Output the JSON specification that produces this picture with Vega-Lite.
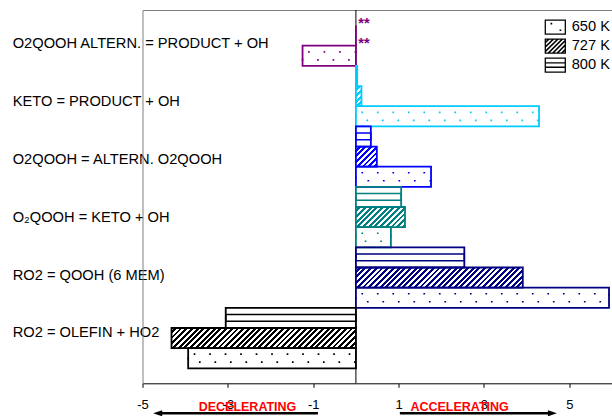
{
  "$schema": "https://vega.github.io/schema/vega-lite/v6.json",
  "width": 469.5,
  "height": 373.3,
  "autosize": {"type": "none"},
  "padding": {"left": 142.5, "top": 10, "right": 0, "bottom": 32.7},
  "config": {"view": {"stroke": null}, "font": "Liberation Sans"},
  "params": [
    {
      "name": "hatchStops",
      "value": [
        {"offset": 0, "color": "#fff"},
        {"offset": 0.0125, "color": "#fff"}, {"offset": 0.0125, "color": "#fff0"},
        {"offset": 0.025, "color": "#fff0"}, {"offset": 0.025, "color": "#fff"},
        {"offset": 0.0375, "color": "#fff"}, {"offset": 0.0375, "color": "#fff0"},
        {"offset": 0.05, "color": "#fff0"}, {"offset": 0.05, "color": "#fff"},
        {"offset": 0.0625, "color": "#fff"}, {"offset": 0.0625, "color": "#fff0"},
        {"offset": 0.075, "color": "#fff0"}, {"offset": 0.075, "color": "#fff"},
        {"offset": 0.0875, "color": "#fff"}, {"offset": 0.0875, "color": "#fff0"},
        {"offset": 0.1, "color": "#fff0"}, {"offset": 0.1, "color": "#fff"},
        {"offset": 0.1125, "color": "#fff"}, {"offset": 0.1125, "color": "#fff0"},
        {"offset": 0.125, "color": "#fff0"}, {"offset": 0.125, "color": "#fff"},
        {"offset": 0.1375, "color": "#fff"}, {"offset": 0.1375, "color": "#fff0"},
        {"offset": 0.15, "color": "#fff0"}, {"offset": 0.15, "color": "#fff"},
        {"offset": 0.1625, "color": "#fff"}, {"offset": 0.1625, "color": "#fff0"},
        {"offset": 0.175, "color": "#fff0"}, {"offset": 0.175, "color": "#fff"},
        {"offset": 0.1875, "color": "#fff"}, {"offset": 0.1875, "color": "#fff0"},
        {"offset": 0.2, "color": "#fff0"}, {"offset": 0.2, "color": "#fff"},
        {"offset": 0.2125, "color": "#fff"}, {"offset": 0.2125, "color": "#fff0"},
        {"offset": 0.225, "color": "#fff0"}, {"offset": 0.225, "color": "#fff"},
        {"offset": 0.2375, "color": "#fff"}, {"offset": 0.2375, "color": "#fff0"},
        {"offset": 0.25, "color": "#fff0"}, {"offset": 0.25, "color": "#fff"},
        {"offset": 0.2625, "color": "#fff"}, {"offset": 0.2625, "color": "#fff0"},
        {"offset": 0.275, "color": "#fff0"}, {"offset": 0.275, "color": "#fff"},
        {"offset": 0.2875, "color": "#fff"}, {"offset": 0.2875, "color": "#fff0"},
        {"offset": 0.3, "color": "#fff0"}, {"offset": 0.3, "color": "#fff"},
        {"offset": 0.3125, "color": "#fff"}, {"offset": 0.3125, "color": "#fff0"},
        {"offset": 0.325, "color": "#fff0"}, {"offset": 0.325, "color": "#fff"},
        {"offset": 0.3375, "color": "#fff"}, {"offset": 0.3375, "color": "#fff0"},
        {"offset": 0.35, "color": "#fff0"}, {"offset": 0.35, "color": "#fff"},
        {"offset": 0.3625, "color": "#fff"}, {"offset": 0.3625, "color": "#fff0"},
        {"offset": 0.375, "color": "#fff0"}, {"offset": 0.375, "color": "#fff"},
        {"offset": 0.3875, "color": "#fff"}, {"offset": 0.3875, "color": "#fff0"},
        {"offset": 0.4, "color": "#fff0"}, {"offset": 0.4, "color": "#fff"},
        {"offset": 0.4125, "color": "#fff"}, {"offset": 0.4125, "color": "#fff0"},
        {"offset": 0.425, "color": "#fff0"}, {"offset": 0.425, "color": "#fff"},
        {"offset": 0.4375, "color": "#fff"}, {"offset": 0.4375, "color": "#fff0"},
        {"offset": 0.45, "color": "#fff0"}, {"offset": 0.45, "color": "#fff"},
        {"offset": 0.4625, "color": "#fff"}, {"offset": 0.4625, "color": "#fff0"},
        {"offset": 0.475, "color": "#fff0"}, {"offset": 0.475, "color": "#fff"},
        {"offset": 0.4875, "color": "#fff"}, {"offset": 0.4875, "color": "#fff0"},
        {"offset": 0.5, "color": "#fff0"}, {"offset": 0.5, "color": "#fff"},
        {"offset": 0.5125, "color": "#fff"}, {"offset": 0.5125, "color": "#fff0"},
        {"offset": 0.525, "color": "#fff0"}, {"offset": 0.525, "color": "#fff"},
        {"offset": 0.5375, "color": "#fff"}, {"offset": 0.5375, "color": "#fff0"},
        {"offset": 0.55, "color": "#fff0"}, {"offset": 0.55, "color": "#fff"},
        {"offset": 0.5625, "color": "#fff"}, {"offset": 0.5625, "color": "#fff0"},
        {"offset": 0.575, "color": "#fff0"}, {"offset": 0.575, "color": "#fff"},
        {"offset": 0.5875, "color": "#fff"}, {"offset": 0.5875, "color": "#fff0"},
        {"offset": 0.6, "color": "#fff0"}, {"offset": 0.6, "color": "#fff"},
        {"offset": 0.6125, "color": "#fff"}, {"offset": 0.6125, "color": "#fff0"},
        {"offset": 0.625, "color": "#fff0"}, {"offset": 0.625, "color": "#fff"},
        {"offset": 0.6375, "color": "#fff"}, {"offset": 0.6375, "color": "#fff0"},
        {"offset": 0.65, "color": "#fff0"}, {"offset": 0.65, "color": "#fff"},
        {"offset": 0.6625, "color": "#fff"}, {"offset": 0.6625, "color": "#fff0"},
        {"offset": 0.675, "color": "#fff0"}, {"offset": 0.675, "color": "#fff"},
        {"offset": 0.6875, "color": "#fff"}, {"offset": 0.6875, "color": "#fff0"},
        {"offset": 0.7, "color": "#fff0"}, {"offset": 0.7, "color": "#fff"},
        {"offset": 0.7125, "color": "#fff"}, {"offset": 0.7125, "color": "#fff0"},
        {"offset": 0.725, "color": "#fff0"}, {"offset": 0.725, "color": "#fff"},
        {"offset": 0.7375, "color": "#fff"}, {"offset": 0.7375, "color": "#fff0"},
        {"offset": 0.75, "color": "#fff0"}, {"offset": 0.75, "color": "#fff"},
        {"offset": 0.7625, "color": "#fff"}, {"offset": 0.7625, "color": "#fff0"},
        {"offset": 0.775, "color": "#fff0"}, {"offset": 0.775, "color": "#fff"},
        {"offset": 0.7875, "color": "#fff"}, {"offset": 0.7875, "color": "#fff0"},
        {"offset": 0.8, "color": "#fff0"}, {"offset": 0.8, "color": "#fff"},
        {"offset": 0.8125, "color": "#fff"}, {"offset": 0.8125, "color": "#fff0"},
        {"offset": 0.825, "color": "#fff0"}, {"offset": 0.825, "color": "#fff"},
        {"offset": 0.8375, "color": "#fff"}, {"offset": 0.8375, "color": "#fff0"},
        {"offset": 0.85, "color": "#fff0"}, {"offset": 0.85, "color": "#fff"},
        {"offset": 0.8625, "color": "#fff"}, {"offset": 0.8625, "color": "#fff0"},
        {"offset": 0.875, "color": "#fff0"}, {"offset": 0.875, "color": "#fff"},
        {"offset": 0.8875, "color": "#fff"}, {"offset": 0.8875, "color": "#fff0"},
        {"offset": 0.9, "color": "#fff0"}, {"offset": 0.9, "color": "#fff"},
        {"offset": 0.9125, "color": "#fff"}, {"offset": 0.9125, "color": "#fff0"},
        {"offset": 0.925, "color": "#fff0"}, {"offset": 0.925, "color": "#fff"},
        {"offset": 0.9375, "color": "#fff"}, {"offset": 0.9375, "color": "#fff0"},
        {"offset": 0.95, "color": "#fff0"}, {"offset": 0.95, "color": "#fff"},
        {"offset": 0.9625, "color": "#fff"}, {"offset": 0.9625, "color": "#fff0"},
        {"offset": 0.975, "color": "#fff0"}, {"offset": 0.975, "color": "#fff"},
        {"offset": 0.9875, "color": "#fff"}, {"offset": 0.9875, "color": "#fff0"},
        {"offset": 1, "color": "#fff0"}
      ]
    }
  ],
  "data": {
    "values": [
      {"reaction": "O2QOOH ALTERN. = PRODUCT + OH", "temp": "800 K", "value": null, "note": "**"},
      {"reaction": "O2QOOH ALTERN. = PRODUCT + OH", "temp": "727 K", "value": 0, "note": "**"},
      {"reaction": "O2QOOH ALTERN. = PRODUCT + OH", "temp": "650 K", "value": -1.25},
      {"reaction": "KETO = PRODUCT + OH", "temp": "800 K", "value": 0.03},
      {"reaction": "KETO = PRODUCT + OH", "temp": "727 K", "value": 0.13},
      {"reaction": "KETO = PRODUCT + OH", "temp": "650 K", "value": 4.29},
      {"reaction": "O2QOOH = ALTERN. O2QOOH", "temp": "800 K", "value": 0.35},
      {"reaction": "O2QOOH = ALTERN. O2QOOH", "temp": "727 K", "value": 0.49},
      {"reaction": "O2QOOH = ALTERN. O2QOOH", "temp": "650 K", "value": 1.76},
      {"reaction": "O₂QOOH = KETO + OH", "temp": "800 K", "value": 1.06},
      {"reaction": "O₂QOOH = KETO + OH", "temp": "727 K", "value": 1.15},
      {"reaction": "O₂QOOH = KETO + OH", "temp": "650 K", "value": 0.82},
      {"reaction": "RO2 = QOOH (6 MEM)", "temp": "800 K", "value": 2.54},
      {"reaction": "RO2 = QOOH (6 MEM)", "temp": "727 K", "value": 3.91},
      {"reaction": "RO2 = QOOH (6 MEM)", "temp": "650 K", "value": 5.93},
      {"reaction": "RO2 = OLEFIN + HO2", "temp": "800 K", "value": -3.05},
      {"reaction": "RO2 = OLEFIN + HO2", "temp": "727 K", "value": -4.32},
      {"reaction": "RO2 = OLEFIN + HO2", "temp": "650 K", "value": -3.93}
    ]
  },
  "resolve": {"scale": {"y": "independent", "yOffset": "independent"}},
  "layer": [
    {
      "layer": [
        {
          "data": {"values": [{}]},
          "mark": {"type": "rule", "color": "#000", "strokeWidth": 1},
          "encoding": {
            "x": {
              "datum": 0, "type": "quantitative",
              "scale": {"domain": [-5, 6], "nice": false},
              "axis": {"orient": "top", "labels": false, "ticks": false, "grid": false, "title": null, "domainColor": "#808080", "domainWidth": 1}
            }
          }
        },
        {
          "mark": {"type": "bar", "strokeWidth": 0},
          "encoding": {
            "x": {
              "field": "value", "type": "quantitative", "stack": null,
              "scale": {"domain": [-5, 6], "nice": false},
              "axis": {"orient": "bottom", "values": [-5, -3, -1, 1, 3, 5], "title": null, "grid": false, "domainColor": "#000", "domainWidth": 1, "tickColor": "#000", "tickSize": 4, "tickWidth": 1, "labelFontSize": 13, "labelColor": "#000", "labelPadding": 11, "labelFlush": false, "labelExpr": "'' + datum.value"}
            },
            "y": {"field": "reaction", "type": "nominal", "sort": null, "scale": {"domain": ["O2QOOH ALTERN. = PRODUCT + OH", "KETO = PRODUCT + OH", "O2QOOH = ALTERN. O2QOOH", "O₂QOOH = KETO + OH", "RO2 = QOOH (6 MEM)", "RO2 = OLEFIN + HO2"], "range": [-4.6, 358.3], "paddingInner": 0, "paddingOuter": 0}, "axis": null},
            "yOffset": {"field": "temp", "type": "nominal", "sort": null, "scale": {"domain": ["800 K", "727 K", "650 K"], "paddingInner": 0, "paddingOuter": 0}},
            "color": {
              "condition": {"test": "datum.temp === '727 K'", "field": "reaction", "type": "nominal", "legend": null, "scale": {"domain": ["O2QOOH ALTERN. = PRODUCT + OH", "KETO = PRODUCT + OH", "O2QOOH = ALTERN. O2QOOH", "O₂QOOH = KETO + OH", "RO2 = QOOH (6 MEM)", "RO2 = OLEFIN + HO2"], "range": ["#800080", "#00ccff", "#0000ff", "#008080", "#000080", "#000000"]}},
              "value": "#fff"
            }
          }
        },
        {
          "transform": [{"filter": "datum.temp === '727 K'"}],
          "mark": {
            "type": "bar", "strokeWidth": 0,
            "fill": {"expr": "{gradient: 'linear', x1: 0, y1: 0, x2: 228 * abs(datum.value) * width / 11 / (pow(abs(datum.value) * width / 11, 2) + 406.43), y2: 228 * 20.16 / (pow(abs(datum.value) * width / 11, 2) + 406.43), stops: hatchStops}"}
          },
          "encoding": {
            "x": {"field": "value", "type": "quantitative", "stack": null, "axis": null},
            "y": {"field": "reaction", "type": "nominal", "sort": null, "axis": null},
            "yOffset": {"field": "temp", "type": "nominal", "sort": null}
          }
        },
        {
          "transform": [{"filter": "datum.temp === '800 K'"}],
          "mark": {"type": "bar", "filled": false, "strokeWidth": 1.5, "height": 6.72},
          "encoding": {
            "x": {"field": "value", "type": "quantitative", "stack": null, "axis": null},
            "y": {"field": "reaction", "type": "nominal", "sort": null, "axis": null},
            "yOffset": {"field": "temp", "type": "nominal", "sort": null},
            "color": {"field": "reaction", "type": "nominal", "legend": null}
          }
        },
        {
          "transform": [{"filter": "datum.temp === '650 K'"}],
          "mark": {"type": "bar", "filled": false, "strokeWidth": 1.7, "height": 8, "strokeDash": [1.7, 13.8], "strokeDashOffset": -5.5},
          "encoding": {
            "x": {"field": "value", "type": "quantitative", "stack": null, "axis": null},
            "y": {"field": "reaction", "type": "nominal", "sort": null, "axis": null},
            "yOffset": {"field": "temp", "type": "nominal", "sort": null},
            "color": {"field": "reaction", "type": "nominal", "legend": null}
          }
        },
        {
          "mark": {"type": "bar", "filled": false, "strokeWidth": 1.8},
          "encoding": {
            "x": {"field": "value", "type": "quantitative", "stack": null, "axis": null},
            "y": {"field": "reaction", "type": "nominal", "sort": null, "axis": null},
            "yOffset": {"field": "temp", "type": "nominal", "sort": null},
            "color": {"field": "reaction", "type": "nominal", "legend": null}
          }
        },
        {
          "transform": [{"filter": "datum.note"}],
          "mark": {"type": "text", "align": "left", "baseline": "middle", "dx": 2.4, "dy": 8.5, "color": "#800080", "fontSize": 14.67, "fontWeight": "bold"},
          "encoding": {
            "x": {"datum": 0, "type": "quantitative", "axis": null},
            "y": {"field": "reaction", "type": "nominal", "sort": null, "axis": null},
            "yOffset": {"field": "temp", "type": "nominal", "sort": null},
            "text": {"field": "note"}
          }
        },
        {
          "data": {"values": [{}]},
          "mark": {"type": "text", "text": "DECELERATING", "color": "#ff0000", "fontWeight": "bold", "fontSize": 12.5, "baseline": "middle", "align": "center", "dy": 24.05},
          "encoding": {"x": {"datum": -2.54, "type": "quantitative", "axis": null}, "y": {"value": "height"}}
        },
        {
          "data": {"values": [{}]},
          "mark": {"type": "text", "text": "ACCELERATING", "color": "#ff0000", "fontWeight": "bold", "fontSize": 12.5, "baseline": "middle", "align": "center", "dy": 24.05},
          "encoding": {"x": {"datum": 2.43, "type": "quantitative", "axis": null}, "y": {"value": "height"}}
        },
        {
          "data": {"values": [{}]},
          "mark": {"type": "rule", "color": "#000", "strokeWidth": 2.5, "yOffset": 30},
          "encoding": {"x": {"datum": -4.6, "type": "quantitative", "axis": null}, "x2": {"datum": -0.89}, "y": {"value": "height"}}
        },
        {
          "data": {"values": [{}]},
          "mark": {"type": "rule", "color": "#000", "strokeWidth": 2.5, "yOffset": 30},
          "encoding": {"x": {"datum": 1.03, "type": "quantitative", "axis": null}, "x2": {"datum": 4.55}, "y": {"value": "height"}}
        },
        {
          "data": {"values": [{}]},
          "mark": {"type": "point", "shape": "M0,0L1.8,-0.6L1.8,0.6Z", "size": 100, "filled": true, "color": "#000", "strokeWidth": 0, "opacity": 1, "yOffset": 30},
          "encoding": {"x": {"datum": -4.75, "type": "quantitative", "axis": null}, "y": {"value": "height"}}
        },
        {
          "data": {"values": [{}]},
          "mark": {"type": "point", "shape": "M0,0L-1.8,-0.6L-1.8,0.6Z", "size": 100, "filled": true, "color": "#000", "strokeWidth": 0, "opacity": 1, "yOffset": 30},
          "encoding": {"x": {"datum": 4.71, "type": "quantitative", "axis": null}, "y": {"value": "height"}}
        }
      ]
    },
    {
      "mark": {"type": "point", "opacity": 0, "filled": true, "color": "#000", "strokeWidth": 0},
      "encoding": {
        "y": {
          "field": "reaction", "type": "nominal", "sort": null,
          "scale": {"type": "point", "domain": ["O2QOOH ALTERN. = PRODUCT + OH", "KETO = PRODUCT + OH", "O2QOOH = ALTERN. O2QOOH", "O₂QOOH = KETO + OH", "RO2 = QOOH (6 MEM)", "RO2 = OLEFIN + HO2"], "padding": 0.7237, "align": 0.399},
          "axis": {"orient": "left", "title": null, "ticks": false, "tickSize": 0, "grid": false, "domain": true, "domainColor": "#808080", "domainWidth": 1, "labelAlign": "left", "labelBaseline": "middle", "labelPadding": 130.3, "labelFontSize": 14.67, "labelColor": "#000", "labelLimit": 400}
        },
        "shape": {
          "field": "temp", "type": "nominal",
          "scale": {
            "domain": ["650 K", "727 K", "800 K"],
            "range": [
              "M-1,-0.72H1V0.72H-1Z M-0.88,-0.6V0.6H0.88V-0.6Z M-0.45,-0.4H-0.29V-0.24H-0.45Z M0.4,0.22H0.56V0.38H0.4Z",
              "M-1,-0.72H1V0.72H-1Z M-0.88,-0.6V0.6H0.88V-0.6Z M0.495,-0.6L0.705,-0.6L-0.495,0.6L-0.705,0.6Z M0.88,-0.565L0.88,-0.355L-0.075,0.6L-0.285,0.6Z M0.88,-0.145L0.88,0.065L0.345,0.6L0.135,0.6Z M0.88,0.275L0.88,0.485L0.765,0.6L0.555,0.6Z M0.075,-0.6L0.285,-0.6L-0.88,0.565L-0.88,0.355Z M-0.345,-0.6L-0.135,-0.6L-0.88,0.145L-0.88,-0.065Z M-0.765,-0.6L-0.555,-0.6L-0.88,-0.275L-0.88,-0.485Z",
              "M-1,-0.72H1V0.72H-1Z M-0.88,-0.6V0.6H0.88V-0.6Z M-0.88,-0.27H0.88V-0.14H-0.88Z M-0.88,0.14H0.88V0.27H-0.88Z"
            ]
          },
          "legend": {"title": null, "orient": "none", "legendX": 401.8, "legendY": 6.05, "padding": 0, "symbolSize": 454, "symbolFillColor": "#000", "symbolStrokeWidth": 0, "symbolOpacity": 1, "labelFontSize": 14.67, "labelColor": "#000", "labelOffset": 5.4, "rowPadding": -0.6, "labelLimit": 100}
        }
      }
    }
  ]
}
